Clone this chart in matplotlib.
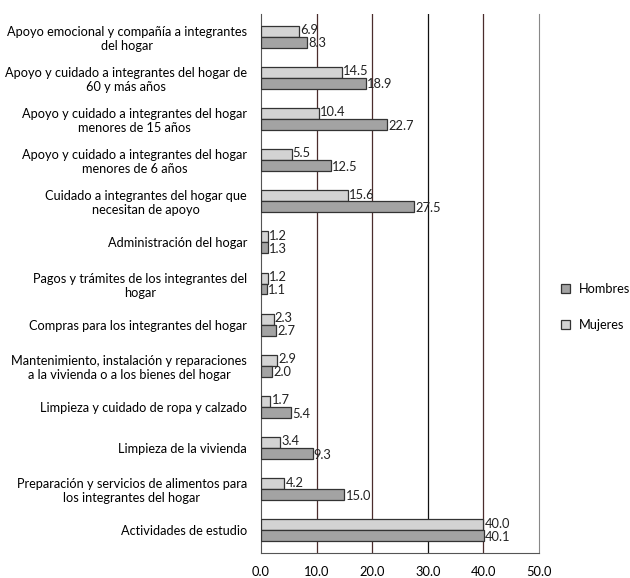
import matplotlib
matplotlib.use('Agg')
import matplotlib.pyplot as plt
import numpy as np

categorias = [
    'Apoyo emocional y compañía a integrantes\ndel hogar',
    'Apoyo y cuidado a integrantes del hogar de\n60 y más años',
    'Apoyo y cuidado a integrantes del hogar\nmenores de 15 años',
    'Apoyo y cuidado a integrantes del hogar\nmenores de 6 años',
    'Cuidado a integrantes del hogar que\nnecesitan de apoyo',
    'Administración del hogar',
    'Pagos y trámites de los integrantes del\nhogar',
    'Compras para los integrantes del hogar',
    'Mantenimiento, instalación y reparaciones\na la vivienda o a los bienes del hogar',
    'Limpieza y cuidado de ropa y calzado',
    'Limpieza de la vivienda',
    'Preparación y servicios de alimentos para\nlos integrantes del hogar',
    'Actividades de estudio',
]
mujeres = [6.9, 14.5, 10.4, 5.5, 15.6, 1.2, 1.2, 2.3, 2.9, 1.7, 3.4, 4.2, 40.0]
hombres = [8.3, 18.9, 22.7, 12.5, 27.5, 1.3, 1.1, 2.7, 2.0, 5.4, 9.3, 15.0, 40.1]
xticks = [0, 10, 20, 30, 40, 50]

plt.rcParams['font.family'] = ['Lato', 'DejaVu Sans']
fig = plt.figure(figsize=(6.3, 5.78), dpi=100)
ax = fig.add_axes([261/630, 1-553/578, 278/630, 539/578])

y = np.arange(len(categorias))
h = 0.265
c_muj, c_hom = '#d3d3d3', '#a3a3a3'
ax.barh(y - h/2, mujeres, height=h, color=c_muj, edgecolor='#333333', lw=0.9, label='Mujeres', zorder=3)
ax.barh(y + h/2, hombres, height=h, color=c_hom, edgecolor='#333333', lw=0.9, label='Hombres', zorder=3)

for yi, m, hv in zip(y, mujeres, hombres):
    ax.text(m + 0.2, yi - h/2 - 0.03, f'{m:.1f}', va='center', ha='left', fontsize=9.3, color='#222222', zorder=4)
    ax.text(hv + 0.2, yi + h/2 + 0.03, f'{hv:.1f}', va='center', ha='left', fontsize=9.3, color='#222222', zorder=4)

ax.set_xlim(0, 50)
ax.set_ylim(len(categorias) - 0.45, -0.55)
ax.set_xticks(xticks)
ax.set_xticklabels([f'{t:.1f}' for t in xticks], fontsize=9.3)
ax.tick_params(axis='x', length=0, pad=9)
ax.set_yticks(y)
ax.set_yticklabels(categorias, fontsize=9.2, multialignment='center')
ax.tick_params(axis='y', length=0, pad=10)

grid_cols = {10: '#4a2c2c', 20: '#4a2c2c', 30: '#111111', 40: '#4a2c2c'}
for xv, col in grid_cols.items():
    ax.axvline(xv, color=col, lw=0.9, zorder=1)
ax.spines['top'].set_visible(False)
ax.spines['left'].set_color('#555555')
ax.spines['bottom'].set_color('#555555')
ax.spines['right'].set_color('#888888')

handles, labels = ax.get_legend_handles_labels()
fig.legend(handles[::-1], labels[::-1], loc='center left', bbox_to_anchor=(552/630, 1-307/578),
           frameon=False, fontsize=9.2, handlelength=0.7, handleheight=0.7, labelspacing=1.9,
           handletextpad=0.7, borderpad=0.2)

fig.savefig('out.png', dpi=100)
